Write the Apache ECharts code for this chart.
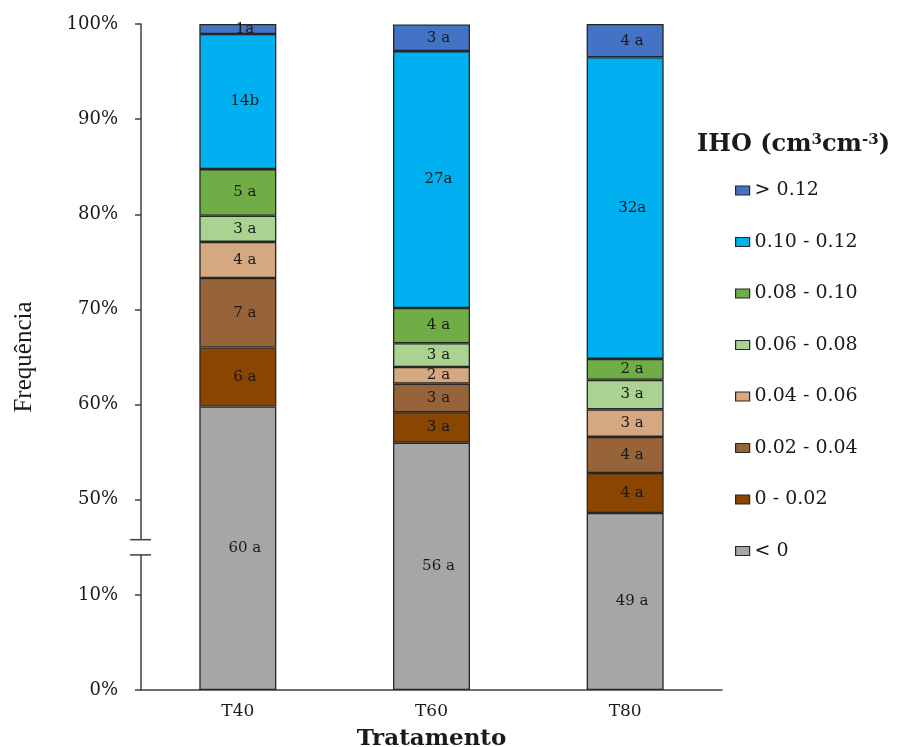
<!DOCTYPE html>
<html>
<head>
<meta charset="utf-8">
<script src="https://cdn.jsdelivr.net/npm/echarts@6/dist/echarts.min.js"></script>
<style>html,body{margin:0;padding:0;background:#fff;}#c{width:903px;height:747px;}</style>
</head>
<body>
<div id="c"></div>
<script>
// ---- data ----
const categories = ['T40', 'T60', 'T80'];
const seriesNames = ['< 0', '0 - 0.02', '0.02 - 0.04', '0.04 - 0.06', '0.06 - 0.08', '0.08 - 0.10', '0.10 - 0.12', '> 0.12'];
const valLt0     = [59.8, 56.0, 48.6];
const val0_002   = [6.2, 3.2, 4.2];
const val002_004 = [7.3, 3.0, 3.8];
const val004_006 = [3.8, 1.75, 2.9];
const val006_008 = [2.75, 2.5, 3.1];
const val008_010 = [4.9, 3.7, 2.2];
const val010_012 = [14.2, 27.0, 31.7];
const valGt012   = [1.05, 2.8, 3.5];
const lblLt0     = ['60 a', '56 a', '49 a'];
const lbl0_002   = ['6 a', '3 a', '4 a'];
const lbl002_004 = ['7 a', '3 a', '4 a'];
const lbl004_006 = ['4 a', '2 a', '3 a'];
const lbl006_008 = ['3 a', '3 a', '3 a'];
const lbl008_010 = ['5 a', '4 a', '2 a'];
const lbl010_012 = ['14b', '27a', '32a'];
const lblGt012   = ['1a', '3 a', '4 a'];
const tickValues = [0, 10, 50, 60, 70, 80, 90, 100];
const axisBreak = { start: 14.2, end: 45.8, gap: 1.6 };

const seriesValues = [valLt0, val0_002, val002_004, val004_006, val006_008, val008_010, val010_012, valGt012];
const seriesLabels = [lblLt0, lbl0_002, lbl002_004, lbl004_006, lbl006_008, lbl008_010, lbl010_012, lblGt012];
const colors = ['#a6a6a6', '#8a4500', '#976439', '#d6a881', '#aad290', '#70ad47', '#00b0f0', '#4472c4'];

const chart = echarts.init(document.getElementById('c'), null, { renderer: 'canvas' });
const serif = 'DejaVu Serif';

const series = seriesNames.map((name, i) => ({
  name: name,
  type: 'bar',
  stack: 'total',
  barWidth: 77,
  data: seriesValues[i],
  itemStyle: { color: colors[i], borderColor: '#262626', borderWidth: 1.3 },
  label: {
    show: true,
    position: 'inside',
    offset: [7, 0],
    fontFamily: serif,
    fontSize: 15,
    color: '#1a1a1a',
    formatter: p => seriesLabels[i][p.dataIndex]
  }
}));

chart.setOption({
  animation: false,
  backgroundColor: '#fff',
  color: colors,
  title: {
    left: 697, top: 133, padding: 0,
    text: '{a|IHO (cm}{s|3}{a|cm}{s|-3}{a|)}',
    textStyle: {
      rich: {
        a: { fontFamily: serif, fontWeight: 'bold', fontSize: 24, color: '#1a1a1a' },
        s: { fontFamily: serif, fontWeight: 'bold', fontSize: 15, color: '#1a1a1a', verticalAlign: 'top', padding: [0, 0, 8, 0] }
      }
    }
  },
  legend: {
    orient: 'vertical',
    left: 735, top: 181, padding: 0,
    data: seriesNames.slice().reverse(),
    itemWidth: 14, itemHeight: 9,
    itemGap: 32.5,
    icon: 'rect',
    itemStyle: { borderColor: '#262626', borderWidth: 1.2 },
    textStyle: { fontFamily: serif, fontSize: 19, color: '#1a1a1a', lineHeight: 18, padding: [0, 0, 0, 0] }
  },
  grid: { left: 141, right: 181, top: 24, bottom: 57, containLabel: false, outerBoundsMode: 'none' },
  xAxis: {
    type: 'category',
    data: categories,
    name: 'Tratamento',
    nameLocation: 'middle',
    nameGap: 38,
    nameTextStyle: { fontFamily: serif, fontWeight: 'bold', fontSize: 23, color: '#1a1a1a' },
    axisLine: { lineStyle: { color: '#404040', width: 1.5 } },
    axisTick: { show: false },
    axisLabel: { fontFamily: serif, fontSize: 17, color: '#1a1a1a', margin: 13 }
  },
  yAxis: {
    type: 'value',
    min: 0, max: 100, interval: 10,
    breaks: [axisBreak],
    breakArea: { show: false },
    name: 'Frequência',
    nameLocation: 'middle',
    nameGap: 104,
    nameTextStyle: { fontFamily: 'Liberation Serif', fontSize: 25, color: '#1a1a1a' },
    axisLine: { show: true, lineStyle: { color: '#404040', width: 1.5 } },
    axisTick: { show: true, inside: false, length: 6, lineStyle: { color: '#404040', width: 1.5 }, customValues: tickValues },
    axisLabel: { fontFamily: serif, fontSize: 18, color: '#1a1a1a', margin: 23, customValues: tickValues, formatter: v => v + '%' },
    splitLine: { show: false }
  },
  series: series
});

// axis-break marks on the y axis line, placed through the axis scale
const yLo = chart.convertToPixel({ yAxisIndex: 0 }, axisBreak.start);
const yHi = chart.convertToPixel({ yAxisIndex: 0 }, axisBreak.end);
const axX = chart.convertToPixel({ xAxisIndex: 0 }, 0) - 96.75;
chart.setOption({
  graphic: [
    { type: 'rect', z: 100, shape: { x: axX - 4, y: yHi, width: 8, height: yLo - yHi }, style: { fill: '#fff' } },
    { type: 'line', z: 101, shape: { x1: axX - 11, y1: yHi, x2: axX + 10, y2: yHi }, style: { stroke: '#404040', lineWidth: 1.5 } },
    { type: 'line', z: 101, shape: { x1: axX - 11, y1: yLo, x2: axX + 10, y2: yLo }, style: { stroke: '#404040', lineWidth: 1.5 } }
  ]
});
</script>
</body>
</html>
